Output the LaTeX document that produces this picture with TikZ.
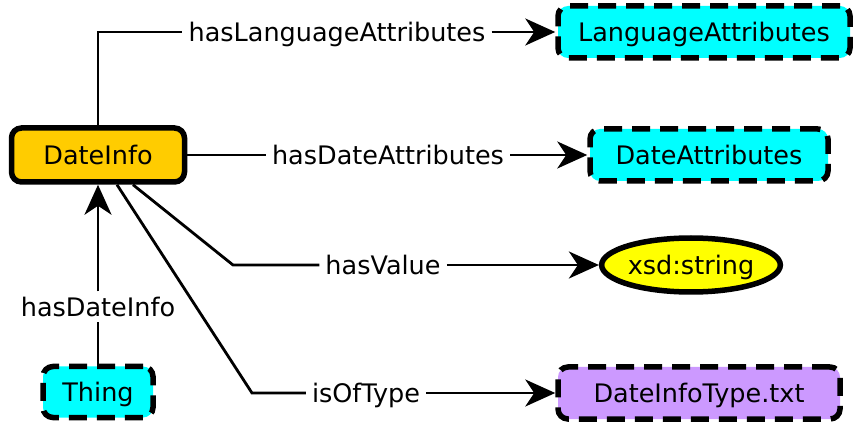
\documentclass[tikz,border=0pt]{standalone}
\usepackage{fontspec}
\setmainfont{DejaVu Sans}
\usetikzlibrary{arrows.meta,shapes.geometric}
\definecolor{dateorange}{HTML}{FFCC00}
\definecolor{classcyan}{HTML}{00FFFF}
\definecolor{dtyellow}{HTML}{FFFF00}
\definecolor{filepurple}{HTML}{CC99FF}
\tikzset{
  every node/.style={font=\fontsize{25.5}{30}\selectfont, inner sep=0pt,
    text height=18.6pt, text depth=0pt},
  mainbox/.style={draw, line width=5.5pt, rounded corners=10pt, fill=dateorange},
  classbox/.style={draw, line width=5.5pt, rounded corners=10pt, fill=classcyan,
    dash pattern=on 18pt off 10pt},
  filebox/.style={classbox, fill=filepurple},
  dtype/.style={draw, ellipse, line width=5.5pt, fill=dtyellow},
  lbl/.style={fill=white, inner xsep=6pt, inner ysep=6pt},
  link/.style={line width=2.8pt},
  arr/.style={link, -{Stealth[length=30pt, width=27pt, inset=9pt]}}
}
\begin{document}
\begin{tikzpicture}[x=1pt, y=-1pt]
  \useasboundingbox (0,0) rectangle (855,422);
  % nodes
  \node[mainbox, minimum width=173, minimum height=54] (dateinfo) at (98,155) {DateInfo};
  \node[classbox, minimum width=292, minimum height=52] (langattr) at (704,32) {LanguageAttributes};
  \node[classbox, minimum width=238, minimum height=52] (dateattr) at (709,155) {DateAttributes};
  \node[dtype, minimum width=175, minimum height=54] (xsdstr) at (691,265) {xsd:string};
  \node[filebox, minimum width=282, minimum height=52] (infotype) at (699,393) {DateInfoType.txt};
  \node[classbox, minimum width=110, minimum height=51] (thing) at (98,392) {Thing};
  % labels
  \node[lbl] (hla) at (337,32) {hasLanguageAttributes};
  \node[lbl] (hda) at (388,155) {hasDateAttributes};
  \node[lbl] (hv) at (383,265) {hasValue};
  \node[lbl] (iot) at (366,393) {isOfType};
  \node[lbl] (hdi) at (98,307) {hasDateInfo};
  \coordinate (bendv) at (233,265);
  \coordinate (bendt) at (252,393);
  % connectors
  \draw[link] (dateinfo.north) |- (hla.west);
  \draw[arr] (hla.east) -- (langattr.west);
  \draw[link] (dateinfo.east) -- (hda.west);
  \draw[arr] (hda.east) -- (dateattr.west);
  \draw[link] ([xshift=35]dateinfo.south) -- (bendv) -- (hv.west);
  \draw[arr] (hv.east) -- (xsdstr.west);
  \draw[link] ([xshift=19]dateinfo.south) -- (bendt) -- (iot.west);
  \draw[arr] (iot.east) -- (infotype.west);
  \draw[link] (thing.north) -- (hdi.south);
  \draw[arr] (hdi.north) -- (dateinfo.south);
\end{tikzpicture}
\end{document}
